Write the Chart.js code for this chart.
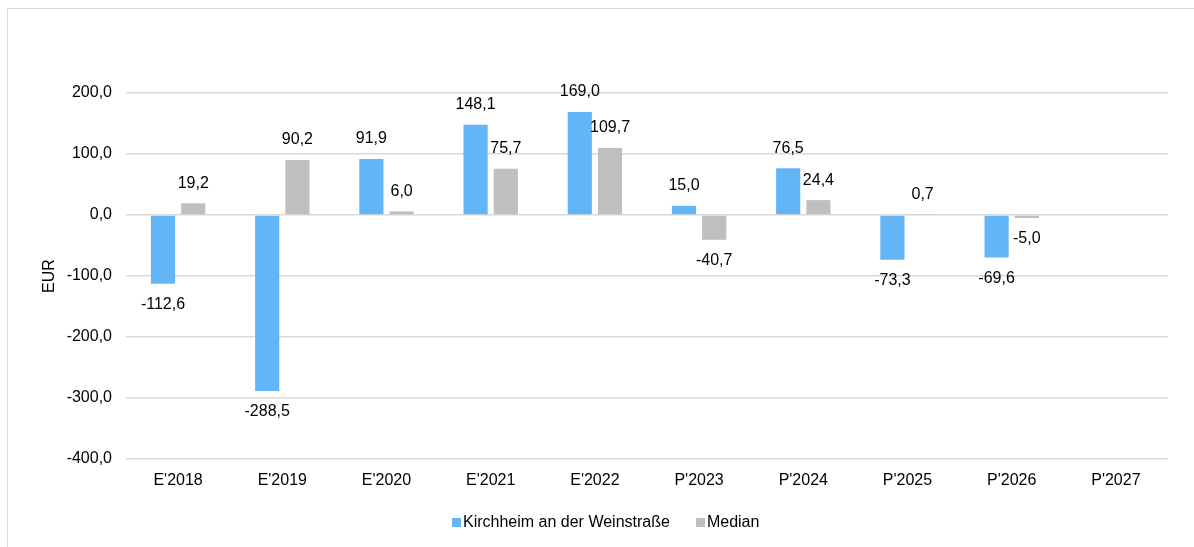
<!DOCTYPE html>
<html>
<head>
<meta charset="utf-8">
<script src="https://cdn.jsdelivr.net/npm/chart.js@4"></script>
<style>
    body { margin: 0; background: #fff; font-family: "Liberation Sans", Arial, sans-serif; }
    #frame { position: absolute; left: 7px; top: 8px; width: 1200px; height: 560px;
             border-left: 1px solid #d9d9d9; border-top: 1px solid #d9d9d9; }
    #wrap { position: absolute; left: 8px; top: 9px; width: 1186px; height: 538px; }
    #legend { position: absolute; left: 452px; top: 513px; display: flex; align-items: center;
              font-size: 16px; color: #000; white-space: nowrap; }
    .lg-item { display: flex; align-items: center; margin-right: 26px; }
    .lg-box { width: 9px; height: 9px; margin-right: 2px; }
</style>
</head>
<body>
<div id="frame"></div>
<div id="wrap"><canvas id="chart"></canvas></div>
<div id="legend"></div>

<script>
// --- DONNEES ---
const categories = ["E'2018", "E'2019", "E'2020", "E'2021", "E'2022", "P'2023", "P'2024", "P'2025", "P'2026", "P'2027"];
const kirchheim = [-112.6, -288.5, 91.9, 148.1, 169.0, 15.0, 76.5, -73.3, -69.6, 0];
const median = [19.2, 90.2, 6.0, 75.7, 109.7, -40.7, 24.4, 0.7, -5.0, 0];
const seriesNames = ["Kirchheim an der Weinstraße", "Median"];
const seriesColors = ['#64b5f6', '#bfbfbf'];

const FONT = '"Liberation Sans", Arial, sans-serif';

// format allemand : 1 décimale, virgule
function fmt(v) {
    return v.toFixed(1).replace('.', ',');
}

// Etiquettes de valeur au bout des barres
const valueLabels = {
    id: 'valueLabels',
    afterDatasetsDraw(chart) {
        const ctx = chart.ctx;
        ctx.save();
        ctx.font = '16px ' + FONT;
        ctx.fillStyle = '#000';
        ctx.textAlign = 'center';
        ctx.textBaseline = 'middle';
        chart.data.datasets.forEach((ds, i) => {
            chart.getDatasetMeta(i).data.forEach((bar, j) => {
                const v = ds.data[j];
                if (!v) return; // pas d'étiquette pour P'2027
                const y = v > 0 ? bar.y - 20 : bar.y + 21;
                ctx.fillText(fmt(v), bar.x, y);
            });
        });
        ctx.restore();
    }
};

new Chart(document.getElementById('chart'), {
    type: 'bar',
    data: {
        labels: categories,
        datasets: [
            { label: seriesNames[0], data: kirchheim, backgroundColor: seriesColors[0] },
            { label: seriesNames[1], data: median, backgroundColor: seriesColors[1] }
        ]
    },
    options: {
        responsive: true,
        maintainAspectRatio: false,
        animation: false,
        categoryPercentage: 0.58,
        barPercentage: 0.8,
        layout: { padding: { left: 0, right: 26, top: 84, bottom: 50 } },
        plugins: { legend: { display: false }, tooltip: { enabled: false } },
        scales: {
            x: {
                grid: { display: false },
                border: { display: false },
                ticks: { color: '#000', font: { family: FONT, size: 16 }, padding: 4, maxRotation: 0 },
                afterFit: s => { s.height = 38; }
            },
            y: {
                min: -400, max: 200,
                grid: { color: '#d9d9d9', lineWidth: 1.5, drawTicks: false },
                border: { display: false },
                ticks: { stepSize: 100, color: '#000', font: { family: FONT, size: 16 }, padding: 14,
                         callback: v => fmt(v) },
                title: { display: true, text: 'EUR', color: '#000', font: { family: FONT, size: 16 },
                         padding: { top: 32, bottom: 0 } },
                afterFit: s => { s.width = 118; }
            }
        }
    },
    plugins: [valueLabels]
});

// Légende HTML
const legend = document.getElementById('legend');
seriesNames.forEach((name, i) => {
    const item = document.createElement('div');
    item.className = 'lg-item';
    item.innerHTML = `<span class="lg-box" style="background:${seriesColors[i]}"></span><span>${name}</span>`;
    legend.appendChild(item);
});
</script>
</body>
</html>
